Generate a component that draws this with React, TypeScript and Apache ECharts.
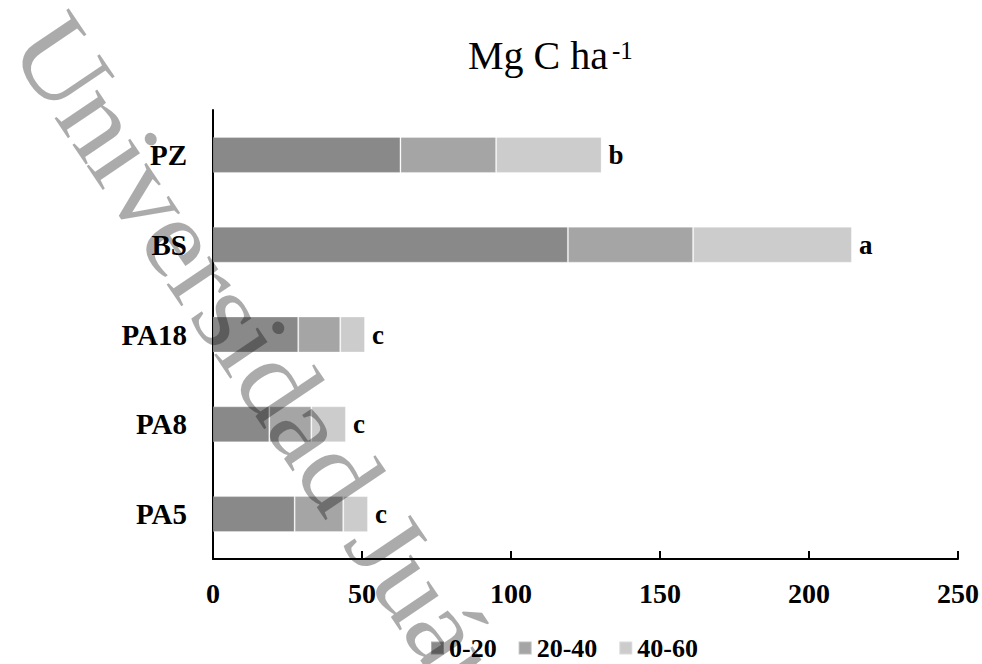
import React, { useEffect, useRef } from "react";
import * as echarts from "echarts";

const categories = ["PA5", "PA8", "PA18", "BS", "PZ"];
const seriesNames = ["0-20", "20-40", "40-60"];
const values0to20 = [27.4, 18.9, 28.6, 119.1, 62.9];
const values20to40 = [16.3, 14.1, 14.1, 42.0, 32.1];
const values40to60 = [8.3, 11.6, 8.3, 53.3, 35.4];
const letters = ["c", "c", "c", "a", "b"];
const xMin = 0;
const xMax = 250;
const xInterval = 50;
const titleMain = "Mg C ha";
const titleSup = "-1";
const watermarkText = "Universidad Juárez";

const SERIF = '"Liberation Serif", "Times New Roman", serif';
const colors = ["#898989", "#a5a5a5", "#cccccc"];

export default function App() {
  const ref = useRef<HTMLDivElement>(null);

  useEffect(() => {
    if (!ref.current) return;
    const chart = echarts.init(ref.current, null, { renderer: "svg" });

    // watermark layout (decoration)
    const wmFont = 112;
    const wmSpacing = 2;
    const ang = (56 * Math.PI) / 180;
    const dx = Math.cos(ang);
    const dy = Math.sin(ang);
    const sx = 38;
    const sy = 26;
    const canvas = document.createElement("canvas");
    const ctx = canvas.getContext("2d");
    const wmElems: any[] = [];
    if (ctx) ctx.font = `${wmFont}px "Liberation Serif"`;
    for (let i = 0; i < watermarkText.length; i++) {
      const ch = watermarkText[i];
      if (ch === " ") continue;
      const adv = (ctx ? ctx.measureText(watermarkText.slice(0, i)).width : i * wmFont * 0.45) + i * wmSpacing;
      wmElems.push({
        type: "text",
        x: sx + dx * adv,
        y: sy + dy * adv,
        rotation: -ang,
        scaleX: 1.08,
        z: 100,
        silent: true,
        style: {
          text: ch,
          font: `${wmFont}px ${SERIF}`,
          fill: "rgba(0,0,0,0.33)",
          textAlign: "left",
          textVerticalAlign: "middle",
        },
      });
    }

    const barCommon = {
      type: "bar",
      stack: "total",
      barWidth: 36,
    };

    const option: any = {
      animation: false,
      backgroundColor: "#ffffff",
      grid: { left: 213, right: 24, top: 110, bottom: 105, containLabel: false },
      legend: {
        data: seriesNames,
        left: 425,
        top: 630,
        itemWidth: 13,
        itemHeight: 13,
        itemGap: 21,
        icon: "rect",
        textStyle: { fontFamily: SERIF, fontWeight: "bold", fontSize: 26, color: "#000" },
      },
      xAxis: {
        type: "value",
        min: xMin,
        max: xMax,
        interval: xInterval,
        axisLine: { show: true, lineStyle: { color: "#000", width: 2 } },
        axisTick: { show: true, inside: true, length: 8, lineStyle: { color: "#000", width: 2 } },
        axisLabel: { fontFamily: SERIF, fontWeight: "bold", fontSize: 28, color: "#000", margin: 20 },
        splitLine: { show: false },
      },
      yAxis: {
        type: "category",
        data: categories,
        axisLine: { show: true, lineStyle: { color: "#000", width: 2 } },
        axisTick: { show: false },
        axisLabel: { fontFamily: SERIF, fontWeight: "bold", fontSize: 29, color: "#000", margin: 26 },
      },
      series: [
        {
          ...barCommon,
          name: seriesNames[0],
          data: values0to20,
          itemStyle: { color: colors[0], borderColor: "rgba(255,255,255,0.3)", borderWidth: 1 },
        },
        {
          ...barCommon,
          name: seriesNames[1],
          data: values20to40,
          itemStyle: { color: colors[1], borderColor: "rgba(255,255,255,0.3)", borderWidth: 1 },
        },
        {
          ...barCommon,
          name: seriesNames[2],
          data: values40to60,
          itemStyle: { color: colors[2], borderColor: "rgba(255,255,255,0.3)", borderWidth: 1 },
          label: {
            show: true,
            position: "right",
            distance: 7,
            formatter: (p: any) => letters[p.dataIndex],
            fontFamily: SERIF,
            fontWeight: "bold",
            fontSize: 27,
            color: "#000",
          },
        },
      ],
      graphic: [
        {
          type: "text",
          x: 468,
          y: 55,
          style: {
            text: titleMain,
            font: `40px ${SERIF}`,
            fill: "#000",
            textAlign: "left",
            textVerticalAlign: "middle",
          },
        },
        {
          type: "text",
          x: 612,
          y: 50,
          style: {
            text: titleSup,
            font: `25px ${SERIF}`,
            fill: "#000",
            textAlign: "left",
            textVerticalAlign: "middle",
          },
        },
        ...wmElems,
      ],
    };

    chart.setOption(option);
    return () => chart.dispose();
  }, []);

  return <div ref={ref} style={{ width: 982, height: 664, position: "absolute", left: 0, top: 0 }} />;
}
